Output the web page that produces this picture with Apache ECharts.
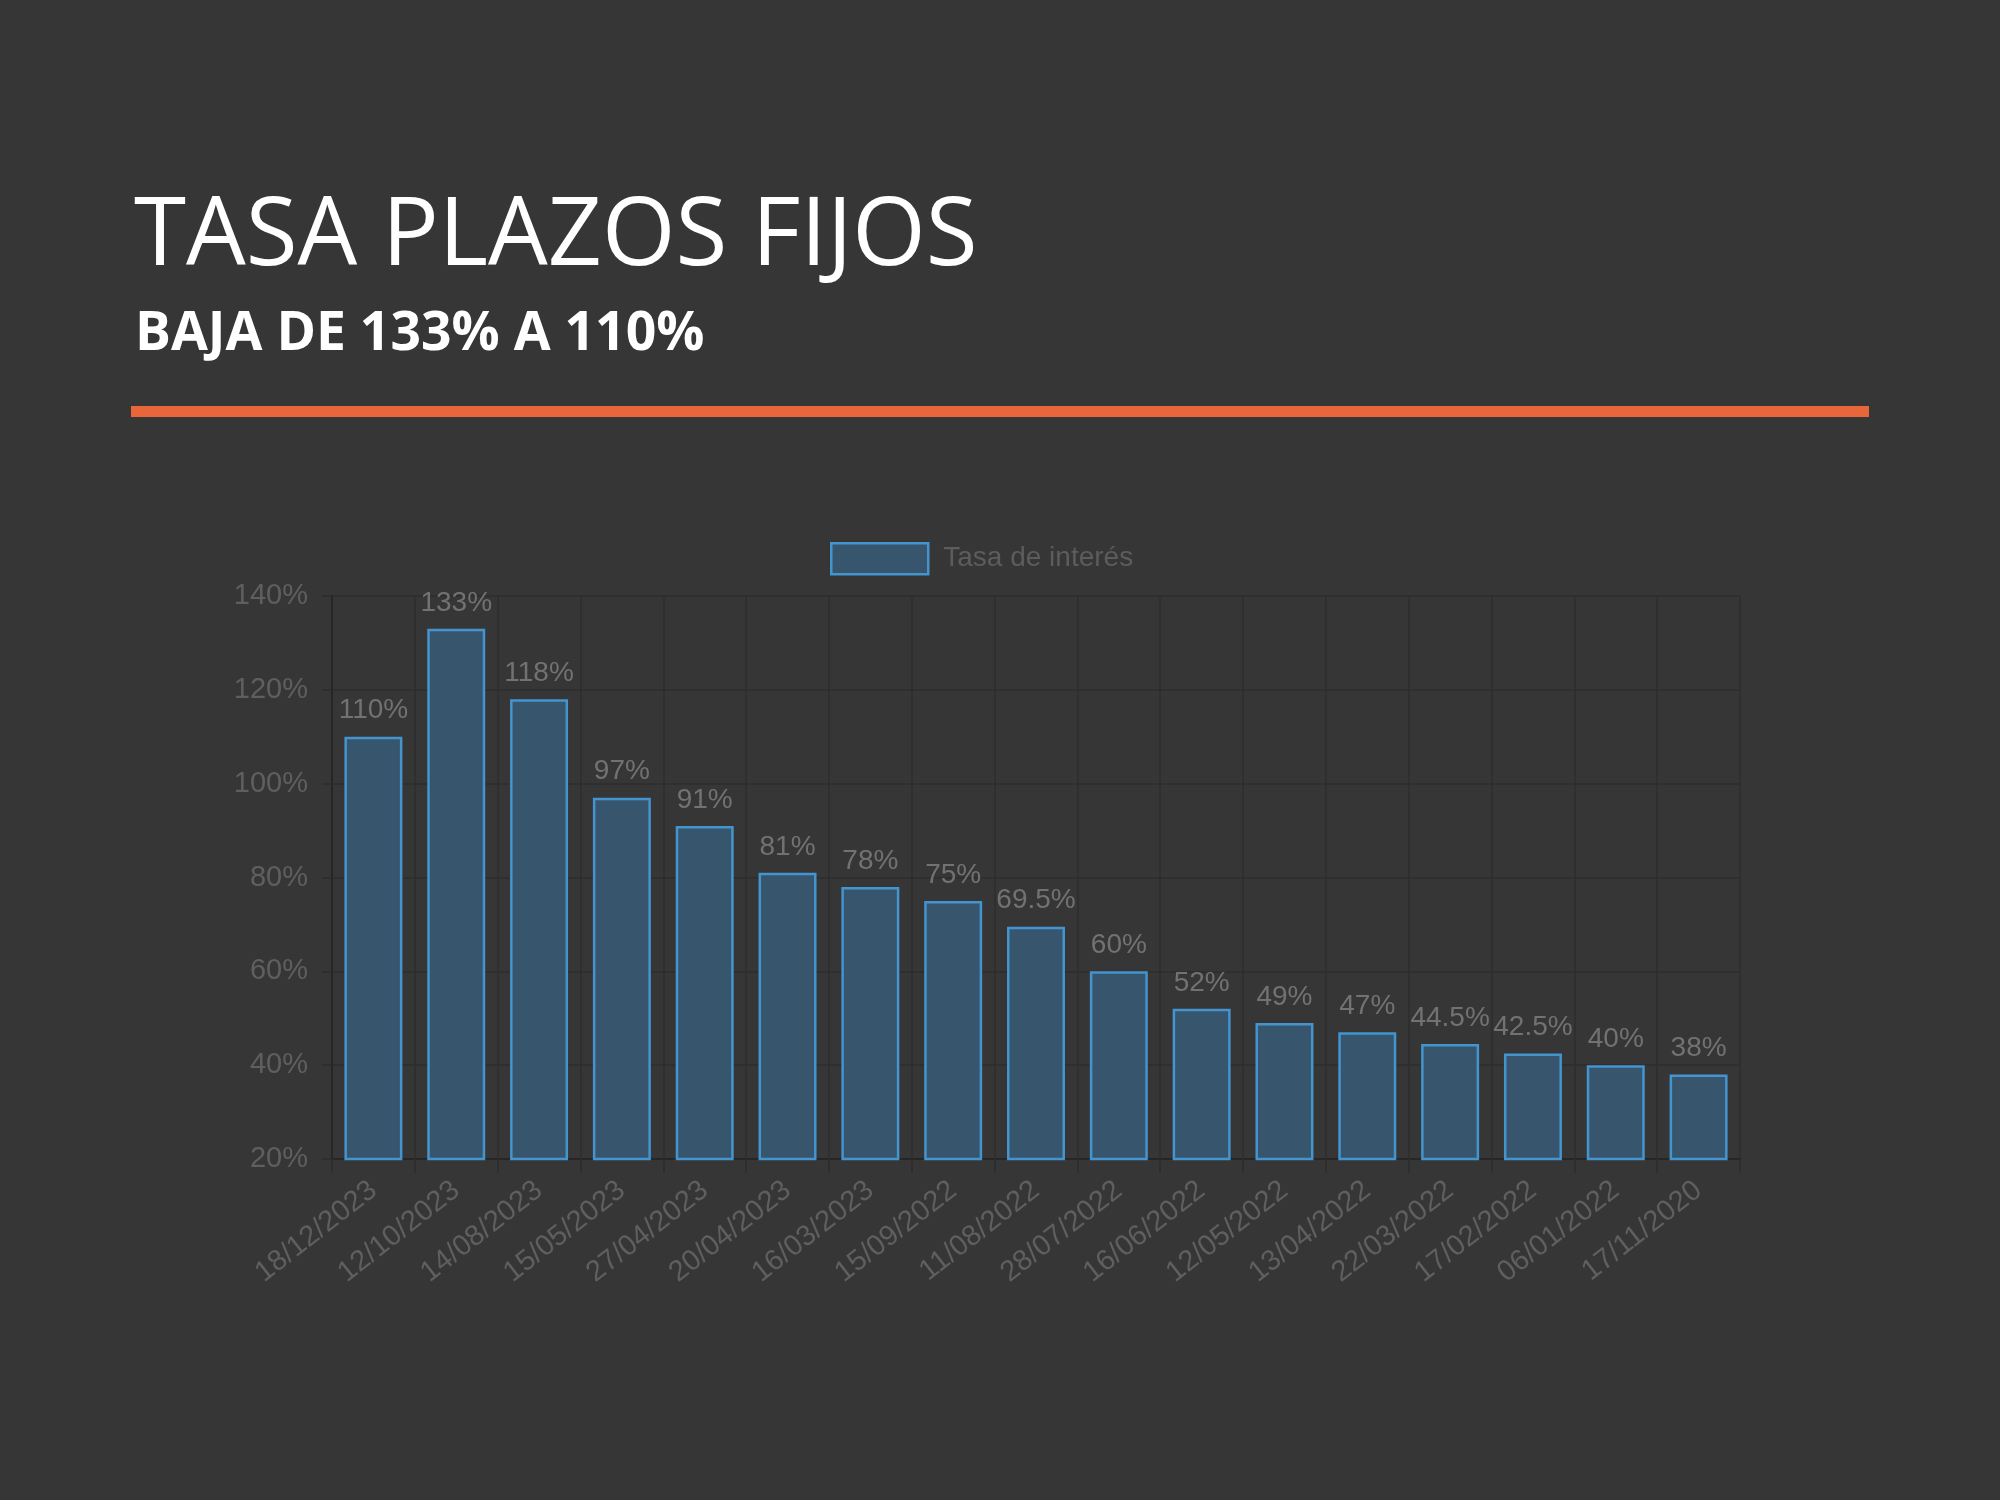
<!DOCTYPE html>
<html>
<head>
<meta charset="utf-8">
<script src="https://cdn.jsdelivr.net/npm/echarts@6/dist/echarts.min.js"></script>
<style>
html,body{margin:0;padding:0;background:#363636;}
#chart{width:2000px;height:1500px;}
</style>
</head>
<body>
<div id="chart"></div>
<script>
const titleText = 'TASA PLAZOS FIJOS';
const subtitleText = 'BAJA DE 133% A 110%';
const seriesName = 'Tasa de interés';
const categories = ['18/12/2023','12/10/2023','14/08/2023','15/05/2023','27/04/2023','20/04/2023','16/03/2023','15/09/2022','11/08/2022','28/07/2022','16/06/2022','12/05/2022','13/04/2022','22/03/2022','17/02/2022','06/01/2022','17/11/2020'];
const values = [110,133,118,97,91,81,78,75,69.5,60,52,49,47,44.5,42.5,40,38];
const yTicks = {min:20, max:140, interval:20};

const chart = echarts.init(document.getElementById('chart'), null, {renderer:'canvas'});
const option = {
  backgroundColor:'#363636',
  animation:false,
  graphic:[
    {type:'text', left:134, top:191, style:{text:titleText, fill:'#ffffff', font:'normal 94.5px "Open Sans"'}},
    {type:'text', left:135, top:308, style:{text:subtitleText, fill:'#ffffff', font:'bold 53.5px "Open Sans"'}},
    {type:'rect', shape:{x:131, y:406, width:1738, height:11}, style:{fill:'#e8663a'}}
  ],
  legend:{
    data:[seriesName],
    left:830, top:542, padding:0,
    itemWidth:97, itemHeight:31,
    icon:'rect',
    itemStyle:{color:'#37566e', borderColor:'#4394cf', borderWidth:2.5},
    textStyle:{color:'#5c5c5c', fontSize:28, fontFamily:'Liberation Sans, Arial, sans-serif', padding:[0,0,0,10]}
  },
  grid:{left:332, right:260, top:596, bottom:341, containLabel:false},
  xAxis:{
    type:'category', data:categories,
    axisLine:{show:true, lineStyle:{color:'#262626', width:2}},
    axisTick:{show:true, length:14, lineStyle:{color:'#2c2c2c', width:1.5}},
    splitLine:{show:true, lineStyle:{color:'#2e2e2e', width:1.5}},
    axisLabel:{color:'#5f5f5f', fontSize:29, fontFamily:'Liberation Sans, Arial, sans-serif', rotate:38, margin:28, interval:0}
  },
  yAxis:{
    type:'value', min:yTicks.min, max:yTicks.max, interval:yTicks.interval,
    axisLine:{show:true, lineStyle:{color:'#262626', width:2}},
    axisTick:{show:true, length:10, lineStyle:{color:'#2c2c2c', width:1.5}},
    splitLine:{show:true, lineStyle:{color:'#2e2e2e', width:1.5}},
    axisLabel:{color:'#5f5f5f', fontSize:29, fontFamily:'Liberation Sans, Arial, sans-serif', margin:24, formatter:'{value}%'}
  },
  series:[{
    name:seriesName, type:'bar', data:values,
    barWidth:'70%',
    itemStyle:{color:'#37566e', borderColor:'#4394cf', borderWidth:2.5},
    label:{show:true, position:'top', distance:12, color:'#727272', fontSize:28, fontFamily:'Liberation Sans, Arial, sans-serif', formatter:'{c}%'}
  }]
};
chart.setOption(option);
</script>
</body>
</html>
